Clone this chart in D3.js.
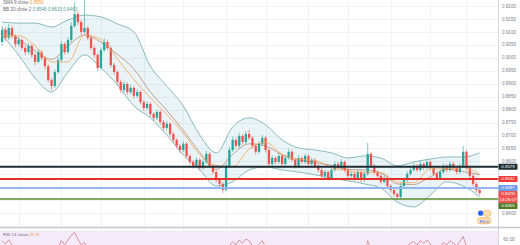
<!DOCTYPE html>
<html lang="en">
<head>
<meta charset="utf-8">
<title>EUR/GBP daily chart</title>
<script src="https://cdn.jsdelivr.net/npm/d3@7"></script>
<style>
  body { margin: 0; background: #fff; }
  svg { display: block; font-family: "Liberation Sans", Arial, sans-serif; }
</style>
</head>
<body>
<script>
// price data, one entry per daily candle
var opens = [0.9061,0.9107,0.9077,0.9115,0.9084,0.9053,0.9069,0.9038,0.9022,0.9046,
  0.9011,0.8984,0.9022,0.8999,0.8968,0.8914,0.8891,0.8945,0.8992,0.9053,
  0.9022,0.9069,0.9123,0.9169,0.9138,0.9100,0.9115,0.9077,0.9038,0.9011,
  0.8961,0.9030,0.9061,0.9038,0.8972,0.8945,0.8907,0.8876,0.8899,0.8868,
  0.8884,0.8853,0.8868,0.8829,0.8806,0.8822,0.8783,0.8768,0.8791,0.8752,
  0.8729,0.8745,0.8706,0.8683,0.8660,0.8644,0.8668,0.8621,0.8598,0.8583,
  0.8606,0.8575,0.8598,0.8629,0.8583,0.8559,0.8528,0.8513,0.8490,0.8583,
  0.8644,0.8683,0.8660,0.8698,0.8675,0.8706,0.8691,0.8660,0.8637,0.8668,
  0.8691,0.8644,0.8590,0.8613,0.8598,0.8621,0.8590,0.8613,0.8637,0.8606,
  0.8583,0.8613,0.8598,0.8621,0.8590,0.8606,0.8583,0.8567,0.8544,0.8559,
  0.8536,0.8567,0.8590,0.8575,0.8598,0.8567,0.8544,0.8552,0.8536,0.8559,
  0.8528,0.8552,0.8629,0.8583,0.8559,0.8544,0.8521,0.8536,0.8505,0.8490,
  0.8474,0.8463,0.8505,0.8528,0.8552,0.8567,0.8583,0.8567,0.8590,0.8575,
  0.8598,0.8575,0.8552,0.8536,0.8559,0.8583,0.8567,0.8590,0.8575,0.8559,
  0.8583,0.8637,0.8575,0.8544,0.8513,0.8490];
var closes = [0.9107,0.9077,0.9115,0.9084,0.9053,0.9069,0.9038,0.9022,0.9046,0.9011,
  0.8984,0.9022,0.8999,0.8968,0.8914,0.8891,0.8945,0.8992,0.9053,0.9022,
  0.9069,0.9123,0.9169,0.9138,0.9100,0.9115,0.9077,0.9038,0.9011,0.8961,
  0.9030,0.9061,0.9038,0.8972,0.8945,0.8907,0.8876,0.8899,0.8868,0.8884,
  0.8853,0.8868,0.8829,0.8806,0.8822,0.8783,0.8768,0.8791,0.8752,0.8729,
  0.8745,0.8706,0.8683,0.8660,0.8644,0.8668,0.8621,0.8598,0.8583,0.8606,
  0.8575,0.8598,0.8629,0.8583,0.8559,0.8528,0.8513,0.8490,0.8583,0.8644,
  0.8683,0.8660,0.8698,0.8675,0.8706,0.8691,0.8660,0.8637,0.8668,0.8691,
  0.8644,0.8590,0.8613,0.8598,0.8621,0.8590,0.8613,0.8637,0.8606,0.8583,
  0.8613,0.8598,0.8621,0.8590,0.8606,0.8583,0.8567,0.8544,0.8559,0.8536,
  0.8567,0.8590,0.8575,0.8598,0.8567,0.8544,0.8552,0.8536,0.8559,0.8528,
  0.8552,0.8629,0.8583,0.8559,0.8544,0.8521,0.8536,0.8505,0.8490,0.8474,
  0.8463,0.8505,0.8528,0.8552,0.8567,0.8583,0.8567,0.8590,0.8575,0.8598,
  0.8575,0.8552,0.8536,0.8559,0.8583,0.8567,0.8590,0.8575,0.8559,0.8583,
  0.8637,0.8575,0.8544,0.8513,0.8490,0.8478];
var highs = [0.9123,0.9118,0.9131,0.9124,0.9092,0.9080,0.9075,0.9048,0.9058,0.9052,
  0.9020,0.9034,0.9030,0.9006,0.8975,0.8922,0.8955,0.9004,0.9064,0.9061,
  0.9080,0.9138,0.9215,0.9180,0.9146,0.9225,0.9122,0.9085,0.9046,0.9018,
  0.9040,0.9075,0.9070,0.9045,0.8980,0.8952,0.8915,0.8910,0.8906,0.8895,
  0.8890,0.8878,0.8875,0.8836,0.8832,0.8830,0.8790,0.8800,0.8798,0.8760,
  0.8755,0.8752,0.8714,0.8690,0.8668,0.8678,0.8675,0.8628,0.8606,0.8616,
  0.8612,0.8608,0.8642,0.8636,0.8590,0.8566,0.8536,0.8520,0.8592,0.8656,
  0.8696,0.8692,0.8710,0.8706,0.8718,0.8722,0.8698,0.8668,0.8678,0.8702,
  0.8698,0.8650,0.8624,0.8620,0.8632,0.8628,0.8622,0.8648,0.8644,0.8612,
  0.8624,0.8620,0.8630,0.8628,0.8615,0.8612,0.8590,0.8574,0.8568,0.8566,
  0.8576,0.8600,0.8598,0.8608,0.8604,0.8574,0.8562,0.8560,0.8568,0.8565,
  0.8562,0.8671,0.8636,0.8590,0.8566,0.8550,0.8545,0.8542,0.8512,0.8498,
  0.8480,0.8515,0.8538,0.8562,0.8578,0.8594,0.8590,0.8600,0.8597,0.8608,
  0.8604,0.8582,0.8560,0.8568,0.8592,0.8590,0.8600,0.8598,0.8582,0.8592,
  0.8660,0.8644,0.8582,0.8550,0.8520,0.8496];
var lows = [0.9046,0.9065,0.9069,0.9074,0.9040,0.9044,0.9030,0.9010,0.9015,0.9001,
  0.8972,0.8978,0.8990,0.8955,0.8905,0.8876,0.8884,0.8938,0.8985,0.9012,
  0.9015,0.9060,0.9115,0.9126,0.9088,0.9092,0.9068,0.9030,0.9000,0.8950,
  0.8955,0.9022,0.9028,0.8962,0.8935,0.8896,0.8865,0.8868,0.8858,0.8860,
  0.8842,0.8845,0.8820,0.8795,0.8798,0.8772,0.8756,0.8760,0.8742,0.8718,
  0.8720,0.8696,0.8672,0.8650,0.8632,0.8636,0.8612,0.8588,0.8572,0.8576,
  0.8566,0.8568,0.8590,0.8575,0.8550,0.8518,0.8502,0.8478,0.8484,0.8575,
  0.8636,0.8650,0.8652,0.8664,0.8668,0.8682,0.8650,0.8626,0.8630,0.8660,
  0.8635,0.8580,0.8582,0.8588,0.8590,0.8580,0.8584,0.8606,0.8598,0.8574,
  0.8576,0.8590,0.8590,0.8582,0.8582,0.8574,0.8558,0.8535,0.8536,0.8526,
  0.8530,0.8560,0.8566,0.8568,0.8558,0.8535,0.8536,0.8526,0.8530,0.8518,
  0.8520,0.8545,0.8575,0.8550,0.8535,0.8512,0.8514,0.8496,0.8480,0.8465,
  0.8451,0.8456,0.8498,0.8520,0.8545,0.8560,0.8558,0.8560,0.8566,0.8568,
  0.8566,0.8544,0.8527,0.8530,0.8552,0.8558,0.8560,0.8566,0.8550,0.8552,
  0.8576,0.8566,0.8535,0.8504,0.8480,0.8470];

// indicator readings, sampled every 5th candle
var sampleIdx = d3.range(0, 146, 5);
var bbUpper = [0.9138,0.9134,0.9134,0.9119,0.9146,0.9165,0.9158,0.9131,0.9100,0.8968,
  0.8891,0.8814,0.8702,0.8633,0.8733,0.8768,0.8741,0.8683,0.8652,0.8644,
  0.8633,0.8613,0.8621,0.8613,0.8583,0.8598,0.8609,0.8617,0.8617,0.8633];
var bbBasis = [0.9113,0.9073,0.9028,0.8994,0.9046,0.9088,0.9060,0.9013,0.8957,0.8868,
  0.8797,0.8720,0.8635,0.8569,0.8627,0.8668,0.8660,0.8625,0.8606,0.8596,
  0.8585,0.8569,0.8567,0.8555,0.8513,0.8511,0.8540,0.8569,0.8561,0.8548];
var bbLower = [0.9088,0.9011,0.8922,0.8868,0.8945,0.9011,0.8961,0.8895,0.8814,0.8768,
  0.8702,0.8625,0.8567,0.8505,0.8521,0.8567,0.8579,0.8567,0.8559,0.8548,
  0.8536,0.8525,0.8513,0.8497,0.8443,0.8424,0.8470,0.8521,0.8505,0.8463];
var sma9 = [0.9084,0.9085,0.9047,0.8984,0.8984,0.9087,0.9071,0.8996,0.8916,0.8846,
  0.8781,0.8709,0.8626,0.8584,0.8579,0.8648,0.8674,0.8628,0.8608,0.8604,
  0.8575,0.8564,0.8557,0.8557,0.8520,0.8518,0.8571,0.8571,0.8576,0.8550];

var rsi = [58,54,59,53,48,51,46,44,49,43, 39,47,43,38,31,29,42,50,58,53,
  59,64,68,60,53,56,49,44,41,35, 46,51,47,38,35,31,28,33,29,33,
  29,33,28,26,31,27,25,31,27,25, 29,25,23,22,21,27,22,20,19,26,
  22,28,35,29,26,22,21,19,42,52, 57,53,59,55,60,58,52,48,54,58,
  50,41,45,43,47,42,46,50,45,42, 47,45,48,43,46,43,40,37,40,36,
  42,46,44,48,43,39,41,38,43,37, 42,58,48,44,42,38,41,36,34,32,
  31,41,47,52,55,57,53,58,55,59, 54,49,46,51,56,53,58,55,52,57,
  63,51,44,38,33,28.11];

var priceTicks = [0.92,0.915,0.91,0.905,0.90,0.895,0.89,0.885,0.88,0.875,0.87,0.865,0.86,0.855,0.85,0.845,0.84];
var levelValues = [0.8579, 0.8532, 0.8497, 0.8455];
var lastPrice = 0.8478;
var countdown = "14:26:07";
var gridIdx = [5,18,30,43,55,68,80,93,105,118,130,141];
var rsiTicks = [60];

// layout
var w = 520, h = 245;
var plotRight = 498, paneBottom = 227;

var x = d3.scaleBand().domain(d3.range(closes.length)).range([0, 481.8]).padding(0.3);
var y = d3.scaleLinear().domain([0.84, 0.92]).range([213.2, 6]);
var yr = d3.scaleLinear().domain([60, 70]).range([239, 230.5]);
var cx = function(i) { return x(i) + x.bandwidth() / 2; };
var fmt = d3.format(".4f");

var svg = d3.select("body").append("svg").attr("width", w).attr("height", h);

var defs = svg.append("defs");
defs.append("clipPath").attr("id", "mainClip").append("rect")
  .attr("x", 0).attr("y", 0).attr("width", plotRight).attr("height", paneBottom);
defs.append("clipPath").attr("id", "rsiClip").append("rect")
  .attr("x", 0).attr("y", paneBottom + 1).attr("width", plotRight).attr("height", h - paneBottom);

// grid
var grid = svg.append("g").attr("stroke", "#eef0f4").attr("stroke-width", 0.8);
grid.selectAll("line.h").data(priceTicks).enter().append("line")
  .attr("x1", 0).attr("x2", plotRight)
  .attr("y1", function(d) { return Math.round(y(d)) + 0.5; })
  .attr("y2", function(d) { return Math.round(y(d)) + 0.5; });
grid.selectAll("line.v").data(gridIdx).enter().append("line")
  .attr("x1", function(d) { return Math.round(cx(d)) + 0.5; })
  .attr("x2", function(d) { return Math.round(cx(d)) + 0.5; })
  .attr("y1", 0).attr("y2", h);

var main = svg.append("g").attr("clip-path", "url(#mainClip)");

// Bollinger bands
var bandX = function(k) { return cx(sampleIdx[k]); };
main.append("path")
  .datum(d3.range(sampleIdx.length))
  .attr("d", d3.area().x(bandX)
    .y0(function(k) { return y(bbLower[k]); })
    .y1(function(k) { return y(bbUpper[k]); })
    .curve(d3.curveMonotoneX))
  .attr("fill", "rgba(96,168,190,0.13)");

[bbUpper, bbLower].forEach(function(arr) {
  main.append("path")
    .datum(d3.range(sampleIdx.length))
    .attr("d", d3.line().x(bandX).y(function(k) { return y(arr[k]); }).curve(d3.curveMonotoneX))
    .attr("fill", "none").attr("stroke", "#6eaaa8").attr("stroke-width", 0.8);
});
main.append("path")
  .datum(d3.range(sampleIdx.length))
  .attr("d", d3.line().x(bandX).y(function(k) { return y(bbBasis[k]); }).curve(d3.curveMonotoneX))
  .attr("fill", "none").attr("stroke", "#b07a62").attr("stroke-width", 0.7);

// candles
var up = "#26a69a", down = "#ef5350";
var candle = main.selectAll("g.c").data(d3.range(closes.length)).enter().append("g");
candle.append("line")
  .attr("x1", cx).attr("x2", cx)
  .attr("y1", function(i) { return y(highs[i]); })
  .attr("y2", function(i) { return y(lows[i]); })
  .attr("stroke", function(i) { return closes[i] >= opens[i] ? up : down; })
  .attr("stroke-width", 0.6);
candle.append("rect")
  .attr("x", function(i) { return x(i); })
  .attr("width", x.bandwidth())
  .attr("y", function(i) { return y(Math.max(opens[i], closes[i])); })
  .attr("height", function(i) { return Math.max(0.6, Math.abs(y(opens[i]) - y(closes[i]))); })
  .attr("fill", function(i) { return closes[i] >= opens[i] ? up : down; });

// 9-period moving average
main.append("path")
  .datum(d3.range(sampleIdx.length))
  .attr("d", d3.line().x(bandX).y(function(k) { return y(sma9[k]); }).curve(d3.curveMonotoneX))
  .attr("fill", "none").attr("stroke", "#f2a55a").attr("stroke-width", 0.8);

// horizontal levels
var levelColors = ["#1e2d34", "#e3302c", "#94b6ec", "#5b8c2c"];
var levelWidths = [2, 2, 2, 1.4];
main.selectAll("line.lv").data(levelValues).enter().append("line")
  .attr("x1", 0).attr("x2", plotRight)
  .attr("y1", function(d) { return y(d); }).attr("y2", function(d) { return y(d); })
  .attr("stroke", function(d, i) { return levelColors[i]; })
  .attr("stroke-width", function(d, i) { return levelWidths[i]; });

// event markers near last candle
var mk = svg.append("g");
mk.append("circle").attr("cx", cx(145) + 1).attr("cy", y(0.8400)).attr("r", 2.6).attr("fill", "#2962ff");
mk.append("rect").attr("x", cx(145) + 4).attr("y", y(0.8400) - 3).attr("width", 7).attr("height", 6).attr("rx", 2)
  .attr("fill", "#fbe1b6").attr("stroke", "#f5a63c").attr("stroke-width", 0.6);
mk.append("rect").attr("x", cx(145) - 2).attr("y", y(0.8400) + 4.5).attr("width", 13).attr("height", 6).attr("rx", 2)
  .attr("fill", "#fbe1b6").attr("stroke", "#f5a63c").attr("stroke-width", 0.6);
mk.append("text").attr("x", cx(145) + 4.5).attr("y", y(0.8400) + 9.3).attr("text-anchor", "middle")
  .attr("font-size", 4.4).attr("fill", "#2962ff").text("E3.0");

// price axis
svg.append("line").attr("x1", plotRight + 0.5).attr("x2", plotRight + 0.5).attr("y1", 0).attr("y2", h)
  .attr("stroke", "#d6d8de").attr("stroke-width", 1);

// tags on the price axis (stacked so they don't overlap)
var tagColors = ["#1e2d34", "#ef3a35", "#6e9ae6", "#4f7e25"];
var tags = levelValues.map(function(v, i) { return { v: v, fill: tagColors[i], lines: [fmt(v)] }; });
tags.push({ v: lastPrice, fill: "#ef5350", lines: [fmt(lastPrice), countdown] });
tags.sort(function(a, b) { return b.v - a.v; });
var tagH = 6, prevBottom = -1;
tags.forEach(function(t) {
  var hh = tagH * t.lines.length;
  var top = Math.max(y(t.v) - tagH / 2, prevBottom);
  t.top = top; t.bottom = top + hh; prevBottom = t.bottom;
});

var labels = priceTicks.filter(function(d) {
  return tags.every(function(t) { return y(d) < t.top - 2 || y(d) > t.bottom + 2; });
});
svg.selectAll("text.pt").data(labels).enter().append("text")
  .attr("x", 509).attr("y", function(d) { return y(d) + 1.6; })
  .attr("text-anchor", "middle").attr("font-size", 4.6).attr("fill", "#7b7e88")
  .text(fmt);

var tg = svg.selectAll("g.tag").data(tags).enter().append("g");
tg.append("rect")
  .attr("x", plotRight + 0.5).attr("width", 19)
  .attr("y", function(t) { return t.top; })
  .attr("height", function(t) { return t.bottom - t.top; })
  .attr("rx", 0.8)
  .attr("fill", function(t) { return t.fill; });
tg.each(function(t) {
  var g = d3.select(this);
  t.lines.forEach(function(s, j) {
    g.append("text").attr("x", plotRight + 10).attr("y", t.top + tagH * j + 4.3)
      .attr("text-anchor", "middle").attr("font-size", 4.4).attr("fill", "#fff").text(s);
  });
});

// legend
var lg = svg.append("g").attr("font-size", 4.6);
var l1 = lg.append("text").attr("x", 3).attr("y", 3.5);
l1.append("tspan").attr("fill", "#6a6d78").text("SMA 9 close ");
l1.append("tspan").attr("fill", "#f29a3a").text(fmt(sma9[sma9.length - 1]));
var l2 = lg.append("text").attr("x", 3).attr("y", 11);
l2.append("tspan").attr("fill", "#6a6d78").text("BB 20 close 2 ");
l2.append("tspan").attr("fill", "#5a9c98").text(fmt(bbBasis[bbBasis.length - 1]) + " " +
  fmt(bbUpper[bbUpper.length - 1]) + " " + fmt(bbLower[bbLower.length - 1]));

// RSI pane
svg.append("line").attr("x1", 0).attr("x2", w).attr("y1", paneBottom + 0.5).attr("y2", paneBottom + 0.5)
  .attr("stroke", "#c5c7cd").attr("stroke-width", 1.5);
var rp = svg.append("g").attr("clip-path", "url(#rsiClip)");
rp.append("rect").attr("x", 0).attr("width", plotRight)
  .attr("y", yr(70)).attr("height", h - yr(70)).attr("fill", "#f5eaf8");
rp.append("path").datum(rsi)
  .attr("d", d3.line().x(function(d, i) { return cx(i); }).y(function(d) { return yr(d); }))
  .attr("fill", "none").attr("stroke", "#d27f8c").attr("stroke-width", 0.8);

var rl = svg.append("text").attr("x", 3).attr("y", 235.5).attr("font-size", 4.4);
rl.append("tspan").attr("fill", "#6a6d78").text("RSI 14 close ");
rl.append("tspan").attr("fill", "#f29a3a").text(d3.format(".2f")(rsi[rsi.length - 1]));

svg.selectAll("text.rt").data(rsiTicks).enter().append("text")
  .attr("x", 509).attr("y", function(d) { return yr(d) + 1.6; })
  .attr("text-anchor", "middle").attr("font-size", 4.6).attr("fill", "#7b7e88")
  .text(d3.format(".2f"));
</script>
</body>
</html>
